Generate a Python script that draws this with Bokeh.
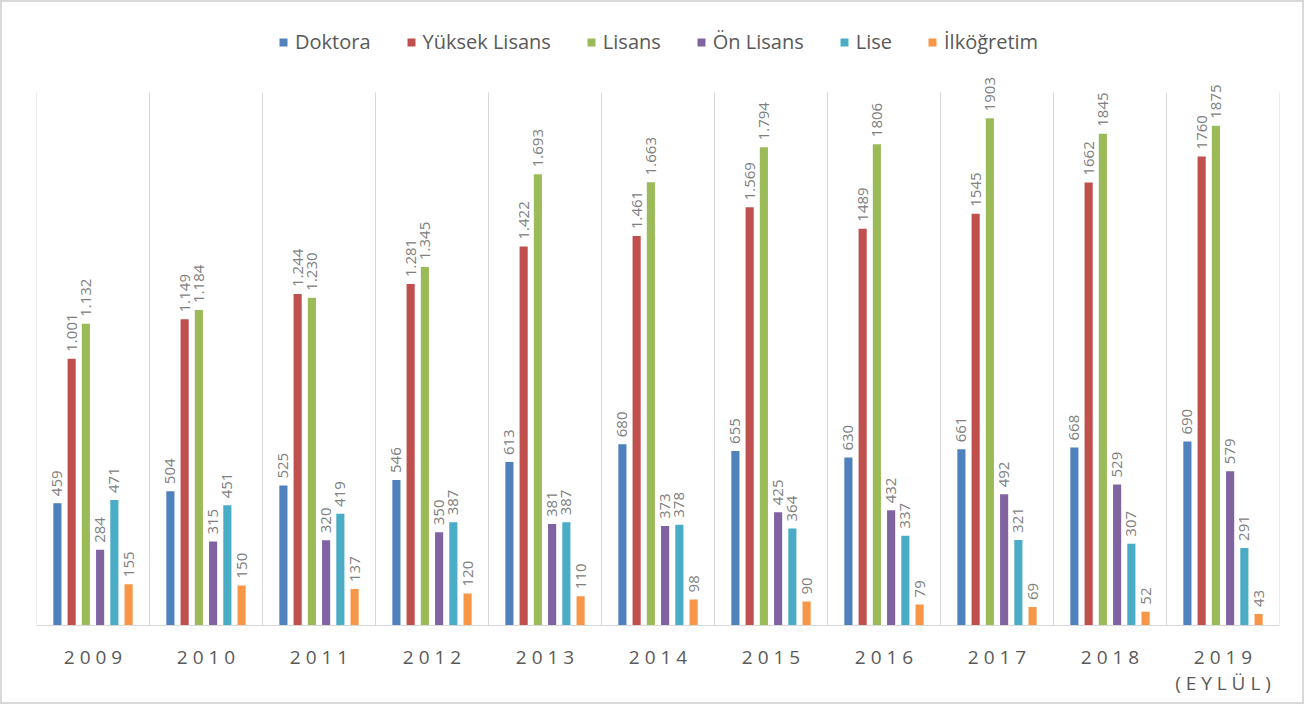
import math
from bokeh.plotting import figure
from bokeh.models import ColumnDataSource, FixedTicker, Legend, LegendItem
from bokeh.core.properties import value
from bokeh.embed import file_html
from bokeh.resources import INLINE

years = ["2009", "2010", "2011", "2012", "2013", "2014", "2015", "2016", "2017", "2018", "2019\n(EYLÜL)"]
series_names = ["Doktora", "Yüksek Lisans", "Lisans", "Ön Lisans", "Lise", "İlköğretim"]
colors = ["#4F81BD", "#C0504D", "#9BBB59", "#8064A2", "#4BACC6", "#F79646"]

doktora = [459, 504, 525, 546, 613, 680, 655, 630, 661, 668, 690]
yuksek_lisans = [1001, 1149, 1244, 1281, 1422, 1461, 1569, 1489, 1545, 1662, 1760]
lisans = [1132, 1184, 1230, 1345, 1693, 1663, 1794, 1806, 1903, 1845, 1875]
on_lisans = [284, 315, 320, 350, 381, 373, 425, 432, 492, 529, 579]
lise = [471, 451, 419, 387, 387, 378, 364, 337, 321, 307, 291]
ilkogretim = [155, 150, 137, 120, 110, 98, 90, 79, 69, 52, 43]

doktora_lbl = ["459", "504", "525", "546", "613", "680", "655", "630", "661", "668", "690"]
yuksek_lisans_lbl = ["1.001", "1.149", "1.244", "1.281", "1.422", "1.461", "1.569", "1489", "1545", "1662", "1760"]
lisans_lbl = ["1.132", "1.184", "1.230", "1.345", "1.693", "1.663", "1.794", "1806", "1903", "1845", "1875"]
on_lisans_lbl = ["284", "315", "320", "350", "381", "373", "425", "432", "492", "529", "579"]
lise_lbl = ["471", "451", "419", "387", "387", "378", "364", "337", "321", "307", "291"]
ilkogretim_lbl = ["155", "150", "137", "120", "110", "98", "90", "79", "69", "52", "43"]

all_values = [doktora, yuksek_lisans, lisans, on_lisans, lise, ilkogretim]
all_labels = [doktora_lbl, yuksek_lisans_lbl, lisans_lbl, on_lisans_lbl, lise_lbl, ilkogretim_lbl]

FONT = "Open Sans"
n = len(years)
step = 0.126
bar_w = 0.072
y_axis_max = 2000   # top of the category separators
y_view_max = 2300   # extra headroom for labels and legend

p = figure(width=1304, height=704, x_range=(0, n), y_range=(0, y_view_max),
           output_backend="svg", toolbar_location=None,
           min_border_left=34, min_border_right=27, min_border_top=10, min_border_bottom=81)
p.styles = {"border": "2px solid #d9d9d9"}
p.outline_line_color = None
p.background_fill_color = "white"

# category separators
bounds = list(range(n + 1))
p.segment(x0=bounds, y0=[0] * len(bounds), x1=bounds, y1=[y_axis_max] * len(bounds),
          line_color="#d9d9d9", line_width=1)

items = []
for k, (name, vals, lbls, col) in enumerate(zip(series_names, all_values, all_labels, colors)):
    xs = [i + 0.5 + (k - 2.5) * step for i in range(n)]
    src = ColumnDataSource(dict(x=xs, top=vals, lbl=lbls))
    r = p.vbar(x="x", top="top", width=bar_w, bottom=0, source=src,
               fill_color=col, line_color=None)
    p.text(x="x", y="top", text="lbl", source=src, angle=math.pi / 2,
           text_align="left", text_baseline="middle", y_offset=-7,
           text_font=value(FONT), text_font_size="15px", text_color="#808080")
    items.append(LegendItem(label=name, renderers=[r]))

legend = Legend(items=items, orientation="horizontal", location=(242, 570),
                label_text_font=FONT, label_text_font_size="20px", label_text_color="#595959",
                glyph_width=10, glyph_height=10, label_standoff=7, spacing=35,
                padding=0, margin=0, border_line_color=None, background_fill_alpha=0)
p.add_layout(legend, "center")

p.yaxis.visible = False
p.ygrid.grid_line_color = None
p.xgrid.grid_line_color = None

centers = [i + 0.5 for i in range(n)]
p.xaxis.ticker = FixedTicker(ticks=centers)
p.xaxis.major_label_overrides = {c: "\n".join("\u00a0".join(part) for part in y.split("\n"))
                                 for c, y in zip(centers, years)}
p.xaxis.axis_line_color = "#d9d9d9"
p.xaxis.major_tick_line_color = None
p.xaxis.minor_tick_line_color = None
p.xaxis.major_label_text_font = FONT
p.xaxis.major_label_text_font_size = "19px"
p.xaxis.major_label_text_color = "#595959"
p.xaxis.major_label_text_line_height = 1.0
p.xaxis.major_label_standoff = 12

open("out.html", "w").write(file_html(p, INLINE))
